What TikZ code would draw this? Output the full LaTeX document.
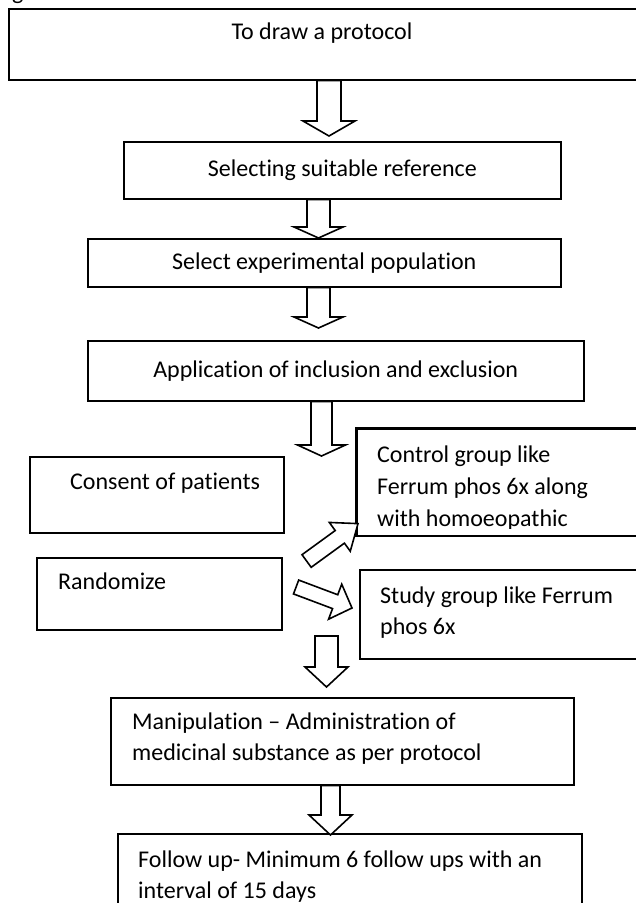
\documentclass[tikz,border=0pt]{standalone}
\usepackage{fontspec}
\setmainfont{Carlito}[Ligatures={CommonOff},RawFeature={-liga;-clig}]
\usetikzlibrary{calc}
\newcommand{\blockarrow}[5]{%
  \coordinate (bah) at ($(#2)!#5!(#1)$);
  \draw[barr] ($(#1)!#3!90:(#2)$) -- ($(bah)!#3!90:(#2)$) -- ($(bah)!#4!90:(#2)$) -- (#2)
    -- ($(bah)!#4!-90:(#2)$) -- ($(bah)!#3!-90:(#2)$) -- ($(#1)!#3!-90:(#2)$) -- cycle;}
\begin{document}
\begin{tikzpicture}[x=1pt,y=-1pt,
  box/.style={draw=black,line width=1.6pt,fill=white,inner sep=0pt,anchor=north west},
  txt/.style={font=\fontsize{24}{30}\selectfont,inner sep=0pt,anchor=base west},
  ctxt/.style={font=\fontsize{24}{30}\selectfont,inner sep=0pt,anchor=center},
  barr/.style={draw=black,line width=1.6pt,fill=white,line join=miter}]
\useasboundingbox (0,0) rectangle (636,903);
\fill[white] (0,0) rectangle (636,903);

% cut-off caption fragment at the top
\node[txt] (cap) at (12,-1) {g};

% boxes
\node[box,minimum width=632pt,minimum height=71pt] (b1) at (8,8) {};
\node[ctxt] (t1) at (322,33) {To draw a protocol};
\node[box,minimum width=437pt,minimum height=57pt] (b2) at (123,141) {};
\node[ctxt] (t2) at (b2.center) {Selecting suitable reference};
\node[box,minimum width=473pt,minimum height=48pt] (b3) at (87,238) {};
\node[ctxt] (t3) at (b3.center) {Select experimental population};
\node[box,minimum width=496pt,minimum height=60pt] (b4) at (87,340) {};
\node[ctxt] (t4) at (b4.center) {Application of inclusion and exclusion};
\node[box,minimum width=254pt,minimum height=76pt] (b5) at (29,456) {};
\node[txt] (t5) at ($(b5.north west)+(41,33)$) {Consent of patients};
\node[box,minimum width=290pt,minimum height=107pt] (b6) at (356,428) {};
\begin{scope}
  \clip (b6.north west) rectangle ($(b6.south east)+(0,-8)$);
  \node[txt] (t6a) at ($(b6.north west)+(21,34)$) {Control group like};
  \node[txt] (t6b) at ($(b6.north west)+(21,66)$) {Ferrum phos 6x along};
  \node[txt] (t6c) at ($(b6.north west)+(21,98)$) {with homoeopathic};
\end{scope}
\draw[line width=1.6pt] (b6.north west) rectangle (b6.south east);
\node[box,minimum width=245pt,minimum height=72pt] (b8) at (36,557) {};
\node[txt] (t8) at ($(b8.north west)+(22,32)$) {Randomize};
\node[box,minimum width=287pt,minimum height=89pt] (b9) at (359,569) {};
\node[txt] (t9a) at ($(b9.north west)+(21,34)$) {Study group like Ferrum};
\node[txt] (t9b) at ($(b9.north west)+(21,65)$) {phos 6x};
\node[box,minimum width=463pt,minimum height=87pt] (b10) at (110,697) {};
\node[txt] (t10a) at ($(b10.north west)+(22,32)$) {Manipulation – Administration of};
\node[txt] (t10b) at ($(b10.north west)+(22,63)$) {medicinal substance as per protocol};
\node[box,minimum width=464pt,minimum height=90pt] (b11) at (117,833) {};
\node[txt] (t11a) at ($(b11.north west)+(21,34)$) {Follow up- Minimum 6 follow ups with an};
\node[txt] (t11b) at ($(b11.north west)+(21,65)$) {interval of 15 days};

% arrow end points
\coordinate (a1s) at ($(b1.south west)+(321,0)$);
\coordinate (a1e) at ($(b2.north west)+(206,-5)$);
\coordinate (a2s) at ($(b2.south west)+(195.5,0)$);
\coordinate (a2e) at ($(b3.north west)+(231.5,0)$);
\coordinate (a3s) at ($(b3.south west)+(231.5,0)$);
\coordinate (a3e) at ($(b4.north west)+(231.5,-12)$);
\coordinate (a4s) at ($(b4.south west)+(234.5,0)$);
\coordinate (a4e) at (321.5,456);
\coordinate (a7s) at ($(b8.north east)+(24,4)$);
\coordinate (a7e) at ($(b6.south west)+(2,-13)$);
\coordinate (a8s) at ($(b8.north east)+(13.5,30)$);
\coordinate (a8e) at ($(b9.north west)+(-7,39)$);
\coordinate (a5s) at (326.5,636);
\coordinate (a5e) at ($(b10.north west)+(216.5,-10)$);
\coordinate (a6s) at ($(b10.south west)+(220.5,0)$);
\coordinate (a6e) at ($(b11.north west)+(213.5,2)$);

\blockarrow{a1s}{a1e}{12pt}{26pt}{15pt}
\blockarrow{a2s}{a2e}{11.5pt}{24.5pt}{11pt}
\blockarrow{a3s}{a3e}{11.5pt}{24.5pt}{11pt}
\blockarrow{a4s}{a4e}{10.5pt}{24pt}{11pt}
\blockarrow{a7s}{a7e}{7.8pt}{17.8pt}{22.5pt}
\blockarrow{a8s}{a8e}{7.4pt}{18.7pt}{18pt}
\blockarrow{a5s}{a5e}{11.5pt}{21.5pt}{20pt}
\blockarrow{a6s}{a6e}{9.5pt}{21.5pt}{20pt}
\end{tikzpicture}
\end{document}
